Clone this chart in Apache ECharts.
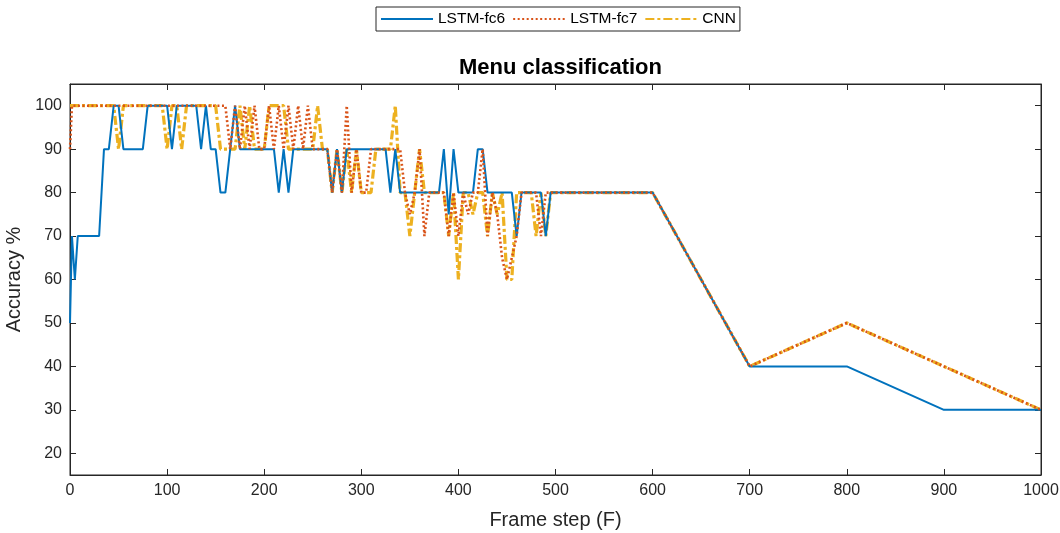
<!DOCTYPE html>
<html>
<head>
<meta charset="utf-8">
<script src="https://cdn.jsdelivr.net/npm/echarts@6/dist/echarts.min.js"></script>
<style>html,body{margin:0;padding:0;background:#fff;}#c{width:1060px;height:533px;}</style>
</head>
<body>
<div id="c"></div>
<script>
const frames = [0,2,5,8,10,15,20,25,30,35,40,45,50,55,60,65,70,75,80,85,90,95,100,105,110,115,120,125,130,135,140,145,150,155,160,165,170,175,180,185,190,195,200,205,210,215,220,225,230,235,240,245,250,255,260,265,270,275,280,285,290,295,300,305,310,315,320,325,330,335,340,345,350,355,360,365,370,375,380,385,390,395,400,405,410,415,420,425,430,435,440,445,450,455,460,465,470,475,480,485,490,495,500,600,700,800,900,1000];
const lstmFc6 = [50,70,60,70,70,70,70,70,70,90,90,100,100,90,90,90,90,90,100,100,100,100,100,90,100,100,100,100,100,90,100,90,90,80,80,90,100,90,90,90,90,90,90,90,90,80,90,80,90,90,90,90,90,90,90,90,80,90,80,90,90,90,90,90,90,90,90,90,80,90,80,80,80,80,80,80,80,80,80,90,75,90,80,80,80,80,90,90,80,80,80,80,80,80,70,80,80,80,80,80,70,80,80,80,40,40,30,30];
const lstmFc7 = [90,100,100,100,100,100,100,100,100,100,100,100,100,100,100,100,100,100,100,100,100,100,100,100,100,100,100,100,100,100,100,100,100,100,100,90,100,90,100,90,100,90,90,100,90,100,90,100,90,100,90,100,90,90,90,90,80,90,80,100,80,90,80,80,90,90,90,90,90,90,90,80,75,80,90,70,80,80,80,80,70,80,70,80,75,80,80,90,70,80,75,65,60,65,70,80,80,80,80,70,80,80,80,80,40,50,40,30];
const cnn = [100,100,100,100,100,100,100,100,100,100,100,100,90,100,100,100,100,100,100,100,100,100,90,100,100,90,100,100,100,100,100,100,100,90,90,90,90,100,90,100,90,90,90,100,100,100,100,90,90,90,90,90,90,100,90,90,80,90,80,90,80,90,80,80,80,90,90,90,90,100,80,80,70,80,90,80,80,80,80,80,70,80,60,80,80,75,80,80,70,80,75,80,60,60,80,80,80,80,70,80,70,80,80,80,40,50,40,30];
const seriesNames = ['LSTM-fc6','LSTM-fc7','CNN'];
const yTicks = [20,30,40,50,60,70,80,90,100];

const pairs = arr => frames.map((f,i)=>[f,arr[i]]);
const font = 'Liberation Sans, Arial, Helvetica, sans-serif';
const axCol = '#262626';
const chart = echarts.init(document.getElementById('c'), null, {renderer:'canvas'});
const tickStyle = () => ({show:true,inside:true,length:6,lineStyle:{color:axCol,width:1}});
const lineStyle = () => ({show:true,onZero:false,lineStyle:{color:axCol,width:1}});
chart.setOption({
  animation:false,
  backgroundColor:'#fff',
  textStyle:{fontFamily:font},
  title:{text:'Menu classification',left:555.5,textAlign:'center',top:52,
    textStyle:{fontSize:22,fontWeight:'bold',color:'#000',fontFamily:font}},
  legend:{
    top:7,left:376,itemWidth:52,itemHeight:14,itemGap:7,padding:[4,4],
    borderColor:axCol,borderWidth:1,backgroundColor:'#fff',
    itemStyle:{opacity:0},
    textStyle:{fontSize:15.5,color:'#000',fontFamily:font},
    data:seriesNames
  },
  grid:{left:70,right:19,top:84,bottom:58,show:true,borderColor:axCol,borderWidth:1,outerBoundsMode:'none',containLabel:false},
  xAxis:[{
    type:'value',min:0,max:1000,interval:100,position:'bottom',
    name:'Frame step (F)',nameLocation:'middle',nameGap:35,
    nameTextStyle:{fontSize:20,color:axCol,fontFamily:font},
    axisLine:lineStyle(),
    axisTick:tickStyle(),
    axisLabel:{fontSize:16,color:axCol,margin:8,fontFamily:font,formatter:v=>String(v)},
    splitLine:{show:false}
  },{
    type:'value',min:0,max:1000,interval:100,position:'top',
    axisLine:lineStyle(),
    axisTick:tickStyle(),
    axisLabel:{show:false},splitLine:{show:false}
  }],
  yAxis:[{
    type:'value',min:15,max:105,position:'left',
    name:'Accuracy %',nameLocation:'middle',nameGap:27,nameRotate:90,
    nameTextStyle:{fontSize:20,color:axCol,fontFamily:font},
    axisLine:lineStyle(),
    axisTick:Object.assign({customValues:yTicks},tickStyle()),
    axisLabel:{fontSize:16,color:axCol,margin:8,fontFamily:font,customValues:yTicks},
    splitLine:{show:false}
  },{
    type:'value',min:15,max:105,position:'right',
    axisLine:lineStyle(),
    axisTick:Object.assign({customValues:yTicks},tickStyle()),
    axisLabel:{show:false,customValues:yTicks},splitLine:{show:false}
  }],
  series:[
    {name:seriesNames[0],type:'line',data:pairs(lstmFc6),symbol:'none',
      lineStyle:{color:'#0072BD',width:2,type:'solid'},itemStyle:{color:'#0072BD'},z:3},
    {name:seriesNames[1],type:'line',data:pairs(lstmFc7),symbol:'none',
      lineStyle:{color:'#D95319',width:2.6,type:[2,2.5]},itemStyle:{color:'#D95319'},z:4},
    {name:seriesNames[2],type:'line',data:pairs(cnn),symbol:'none',
      lineStyle:{color:'#EDB120',width:3.2,type:[9,3,3,3]},itemStyle:{color:'#EDB120'},z:2}
  ]
});
</script>
</body>
</html>
